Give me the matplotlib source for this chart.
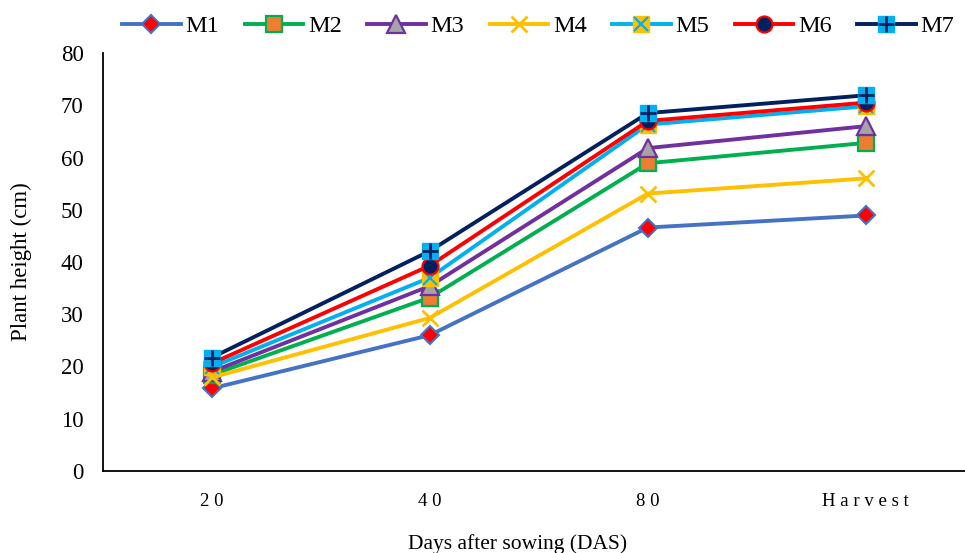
import matplotlib.pyplot as plt

plt.rcParams['font.family'] = ['Liberation Serif', 'DejaVu Serif']

# Plant height (cm) at each sampling stage
stages = ["20", "40", "80", "Harvest"]
m1 = [15.8, 26.0, 46.6, 48.9]
m2 = [18.4, 33.2, 58.9, 62.8]
m3 = [19.0, 35.4, 61.8, 66.0]
m4 = [17.9, 29.3, 53.1, 56.0]
m5 = [19.9, 37.0, 66.3, 69.8]
m6 = [20.6, 39.3, 67.0, 70.5]
m7 = [21.7, 42.1, 68.5, 71.9]
labels = ["M1", "M2", "M3", "M4", "M5", "M6", "M7"]

x = list(range(len(stages)))

fig = plt.figure(figsize=(9.65, 5.53), dpi=100)
ax = fig.add_axes([103 / 965, 1 - 471 / 553, 862 / 965, 418 / 553])

lw = 2.8

handles = []
# M1: red diamond, blue rim
h, = ax.plot(x, m1, color='#4472C4', lw=lw, marker='D', ms=9.5,
             mfc='#FF0000', mec='#4472C4', mew=1.5)
handles.append(h)
# M2: orange square, green rim
h, = ax.plot(x, m2, color='#00B050', lw=lw, marker='s', ms=11.5,
             mfc='#ED7D31', mec='#00B050', mew=1.6)
handles.append(h)
# M3: grey triangle, purple rim
h, = ax.plot(x, m3, color='#7030A0', lw=lw, marker='^', ms=12.5,
             mfc='#A5A5A5', mec='#7030A0', mew=1.6)
handles.append(h)
# M4: yellow cross
h, = ax.plot(x, m4, color='#FFC000', lw=lw, marker='x', ms=12,
             mec='#FFC000', mew=2)
handles.append(h)
# M5: yellow square with blue cross
h1, = ax.plot(x, m5, color='#00B0F0', lw=lw, marker='s', ms=11.5,
              mfc='#FFC000', mec='#FFC000', mew=1)
h2, = ax.plot(x, m5, ls='none', marker='x', ms=10.5,
              mec='#00B0F0', mew=1.6)
handles.append((h1, h2))
# M6: navy circle, red rim
h, = ax.plot(x, m6, color='#FF0000', lw=lw, marker='o', ms=11.5,
             mfc='#002060', mec='#FF0000', mew=1.6)
handles.append(h)
# M7: blue square with navy plus
h1, = ax.plot(x, m7, color='#002060', lw=lw, marker='s', ms=12,
              mfc='#00B0F0', mec='#00B0F0', mew=1)
h2, = ax.plot(x, m7, ls='none', marker='+', ms=12,
              mec='#002060', mew=2)
handles.append((h1, h2))

ax.legend(handles, labels, ncol=7, loc='center', bbox_to_anchor=(0.505, 1.0 + 27 / 418),
          frameon=False, fontsize=17.5, handlelength=2.4, handletextpad=0.2,
          columnspacing=1.05, borderaxespad=0)

ax.set_xlim(-0.499, 3.455)
ax.set_ylim(0, 80)
ax.set_yticks(range(0, 81, 10))
ax.set_xticks(x)
ax.set_xticklabels([" ".join(s) for s in stages], fontsize=13.5)
ax.tick_params(axis='both', length=0)
ax.tick_params(axis='y', labelsize=16.5, pad=14)
ax.tick_params(axis='x', pad=16)

for side in ['top', 'right']:
    ax.spines[side].set_visible(False)
for side in ['left', 'bottom']:
    ax.spines[side].set_linewidth(1.3)

fig.text(21 / 965, 1 - 262 / 553, "Plant height (cm)", rotation=90,
         ha='center', va='center', fontsize=16.5)
fig.text(518 / 965, 1 - 544 / 553, "Days after sowing (DAS)",
         ha='center', va='center', fontsize=15.5)

fig.savefig("out.png", dpi=100)
